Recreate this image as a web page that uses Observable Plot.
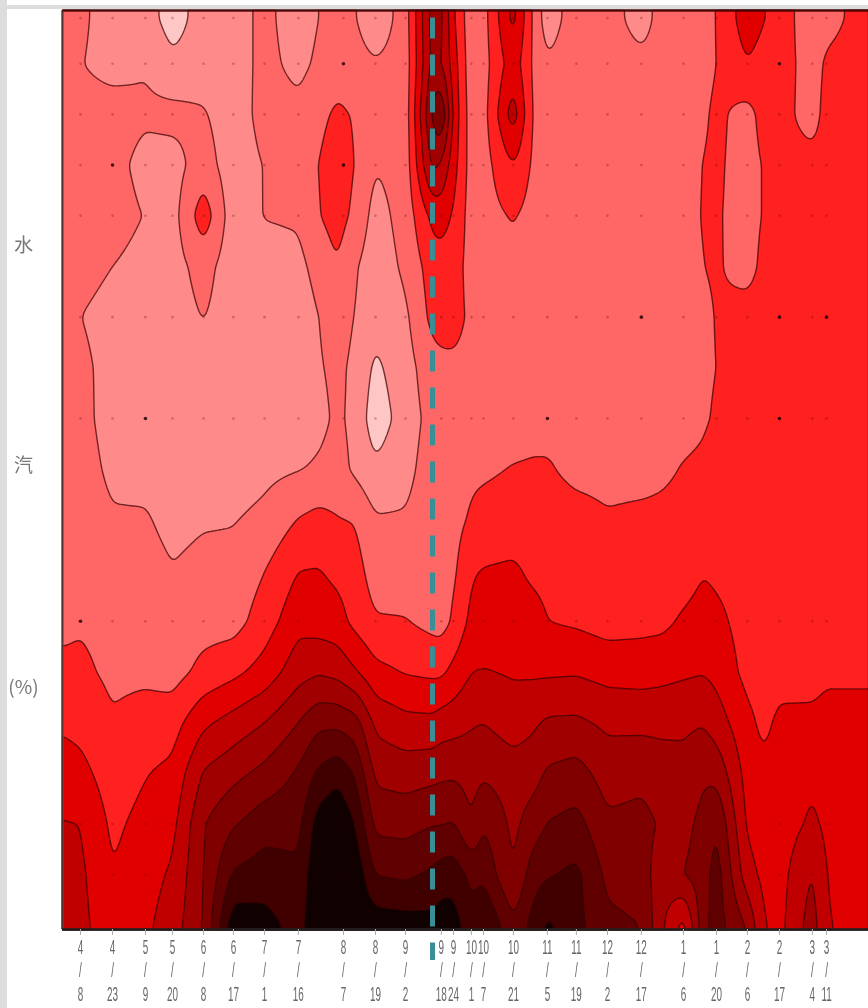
<!DOCTYPE html>
<html>
<head>
<meta charset="utf-8">
<script src="https://cdn.jsdelivr.net/npm/d3@7"></script>
<script src="https://cdn.jsdelivr.net/npm/@observablehq/plot@0.6"></script>
<style>
html,body{margin:0;padding:0;background:#fff;overflow:hidden}
#page{position:relative;width:868px;height:1008px}
#stripL{position:absolute;left:0;top:0;width:7px;height:1008px;background:#ddd}
#stripT{position:absolute;left:7px;top:5px;width:861px;height:4px;background:#ddd}
#chart{position:absolute;left:0;top:0}
#chart svg{display:block;background:transparent;filter:blur(.7px)}
#chart svg text{filter:blur(.7px)}
</style>
</head>
<body>
<div id="page"><div id="stripL"></div><div id="stripT"></div><div id="chart"></div></div>
<script>
// Sounding heights (grid rows), top to bottom
const heights = [1790,1700,1600,1500,1400,1300,1200,1100,1000,900,800,700,600,500,400,300,200,100,0];
// Grid columns, in days after the first labelled sample
const sampleDays = [-8.1,0,14.5,29.4,41.6,55.7,69.2,83.3,98.6,107.7,116.3,124.4,133.5,147.1,159.3,163.3,168.8,176.9,182.4,195.9,205,211.3,224.4,238.5,253.8,262.9,272.9,281.9,287.8,301.8,308.6,316.3,331.2,337.6,356.6];
// Values read per column (contour level units), one entry per height
const c00 = [2.5,2.5,2.6,2.6,2.6,2.6,2.5,2.5,2.5,2.5,2.5,2.6,2.8,3.2,3.85,4.45,5.05,5.4,5.7];
const c01 = [2.2,2.05,2.4,2.6,2.6,2.3,2.0,2.2,2.3,2.4,2.5,2.6,2.9,3.2,3.7,4.3,5.0,5.2,5.3];
const c02 = [1.5,1.6,2.5,2.4,2.5,2.0,1.7,1.7,1.6,1.8,2.1,2.4,2.7,2.8,3.1,3.5,3.8,4.05,4.3];
const c03 = [1.5,1.9,2.2,1.6,1.95,1.6,1.6,1.5,1.5,1.7,2.1,2.4,2.7,2.8,3.4,3.95,4.3,4.6,4.8];
const c04 = [.5,1.25,2.3,1.6,1.6,1.6,1.5,1.4,1.4,1.5,1.7,2.05,2.4,2.6,3.57,4.25,4.7,5.15,5.5];
const c05 = [1.5,1.5,2.1,2.5,3.6,2.4,2.05,1.6,1.5,1.5,1.9,2.3,2.6,3.3,4.8,6.1,6.95,7.0,7.05];
const c06 = [1.5,1.5,1.4,1.4,1.4,1.4,1.4,1.4,1.4,1.5,1.95,2.3,2.6,3.75,5.4,6.7,7.9,9.15,10.7];
const c07 = [2.3,2.3,2.4,2.05,2.05,1.5,1.4,1.4,1.4,1.75,2.25,2.98,3.5,4.4,6.0,7.3,8.6,9.5,10.4];
const c08 = [1.4,1.7,2.3,2.4,2.15,1.7,1.3,1.3,1.4,1.95,3.05,4.0,4.7,5.6,7.0,8.15,8.7,9.2,9.6];
const c09 = [2.0,2.2,2.7,3.0,2.95,2.4,2.0,1.9,1.7,2.15,3.3,4.05,4.55,5.9,7.75,9.2,10.5,11,11];
const c10 = [2.5,2.5,3.2,3.7,3.4,2.95,2.5,2.25,2.2,2.4,3.05,3.75,4.4,5.7,7.76,9.7,11,11.5,11.5];
const c11 = [2.05,2.35,2.9,2.95,2.75,2.1,1.95,1.75,1.7,1.8,2.95,3.4,3.7,5.1,7.4,8.9,10.0,10.8,11];
const c12 = [1.3,2.1,2.4,2.05,1.6,1.4,1.3,.8,.4,1.2,2.1,2.5,3.1,4.3,5.75,6.75,7.7,8.98,10.6];
const c13 = [2.5,2.4,2.4,2.4,2.4,2.2,1.8,1.6,1.5,1.7,2.1,2.5,3.05,3.93,5.3,6.55,7.65,8.8,10.5];
const c14 = [6.5,6.4,7.2,6.3,4.3,3.5,3.3,2.6,2.35,2.5,2.55,2.55,2.7,3.8,5.25,6.7,7.95,9.2,10.35];
const c15 = [6.3,6.1,8.2,5.9,4.4,3.6,3.4,2.75,2.4,2.4,2.5,2.55,2.6,3.8,5.5,6.8,7.95,9.5,10.6];
const c16 = [4.1,4.5,4.7,4.4,3.9,3.45,3.35,2.8,2.45,2.45,2.65,2.8,3.15,4.3,5.6,6.85,8.1,9.6,10.5];
const c17 = [2.3,2.3,2.4,2.5,2.5,2.6,2.8,2.7,2.5,2.8,3.15,3.9,4.3,5.0,5.9,6.65,7.0,8.7,9.35];
const c18 = [2.6,2.6,2.6,2.6,2.6,2.6,2.6,2.6,2.6,2.85,3.35,4.05,4.45,5.05,6.0,6.85,7.95,8.8,10.1];
const c19 = [5.4,4.6,5.6,4.0,3.1,2.65,2.6,2.6,2.6,3.05,3.5,4.15,4.5,4.9,5.5,6.5,6.75,6.95,8.2];
const c20 = [2.8,2.8,2.8,2.8,2.6,2.6,2.6,2.6,2.7,3.1,3.4,3.8,4.35,4.85,5.85,6.6,7.5,8.6,9.4];
const c21 = [1.4,2.15,2.5,2.5,2.55,2.6,2.6,2.6,2.7,3.1,3.45,3.75,4.0,4.85,6.15,7.15,8.05,8.9,10.2];
const c22 = [2.6,2.6,2.6,2.6,2.6,2.6,2.6,2.6,2.7,2.75,3.35,3.7,3.85,4.9,6.2,7.4,8.35,9.25,9.3];
const c23 = [2.6,2.6,2.6,2.6,2.6,2.6,2.6,2.6,2.65,2.7,3.1,3.4,3.6,4.65,5.8,6.55,7.2,7.75,8.25];
const c24 = [1.4,2.4,2.5,2.5,2.5,2.5,2.5,2.5,2.6,2.7,3.2,3.35,3.7,4.6,5.75,6.75,7.3,7.5,8.0];
const c25 = [2.5,2.5,2.5,2.5,2.5,2.5,2.5,2.5,2.7,2.85,3.2,3.4,3.75,4.7,5.75,6.5,6.9,6.4,6.2];
const c26 = [2.6,2.5,2.5,2.5,2.5,2.5,2.5,2.5,2.75,3.05,3.25,3.55,4.15,4.85,5.8,6.35,6.7,7.0,4.6];
const c27 = [2.7,2.7,2.85,3.05,3.1,3.0,2.8,2.85,2.9,3.15,3.3,3.95,4.4,4.95,5.95,6.85,7.3,7.5,7.7];
const c28 = [3.0,3.0,3.2,3.15,3.1,3.1,3.05,3.0,3.1,3.35,3.5,3.8,4.25,4.7,5.5,6.7,8.0,8.5,8.45];
const c29 = [4.6,3.95,2.65,2.6,2.6,2.65,3.4,3.5,3.5,3.6,3.65,3.6,3.6,3.7,4.25,4.6,4.8,5.4,6.9];
const c30 = [4.1,3.6,3.3,3.05,3.05,3.2,3.45,3.5,3.5,3.55,3.55,3.55,3.55,3.6,3.8,4.2,4.5,4.8,5.1];
const c31 = [3.5,3.4,3.3,3.2,3.2,3.3,3.4,3.5,3.5,3.6,3.6,3.65,3.7,3.75,4.15,4.3,4.45,4.6,4.7];
const c32 = [2.4,2.6,2.65,3.3,3.2,3.3,3.4,3.4,3.4,3.45,3.5,3.5,3.6,3.7,4.2,4.8,5.2,6.1,6.5];
const c33 = [2.7,3.15,3.3,3.3,3.3,3.3,3.4,3.4,3.4,3.45,3.5,3.5,3.6,3.85,4.3,4.5,4.8,4.95,5.05];
const c34 = [3.4,3.4,3.4,3.4,3.4,3.4,3.4,3.4,3.4,3.5,3.5,3.5,3.6,3.85,4.3,4.4,4.5,4.6,4.7];
const columns = [c00,c01,c02,c03,c04,c05,c06,c07,c08,c09,c10,c11,c12,c13,c14,c15,c16,c17,c18,c19,c20,c21,c22,c23,c24,c25,c26,c27,c28,c29,c30,c31,c32,c33,c34];

// Contour levels and their colours
const levelThresholds = [0,1,2,3,4,5,6,7,8,9,10];
const levelColors = ["#ffc6c6","#ff8a8a","#ff6666","#ff2020","#e00000","#c00000","#a00000","#800000","#600000","#400000","#100000"];

// Tick labels on the time axis
const tickDays = [0,14.5,29.4,41.6,55.7,69.2,83.3,98.6,119,133.5,147.1,163.3,168.8,176.9,182.4,195.9,211.3,224.4,238.5,253.8,272.9,287.8,301.8,316.3,331.2,337.6];
const tickMonths = ["4","4","5","5","6","6","7","7","8","8","9","9","9","10","10","10","11","11","12","12","1","1","2","2","3","3"];
const tickDates = ["8","23","9","20","8","17","1","16","7","19","2","18","24","1","7","21","5","19","2","17","6","20","6","17","4","11"];

// Sample markers
const markerHeights = [1790,1700,1600,1500,1400,1200,1000,600,200,100];
const markedDay = [14.5,119,119,29.4,0,253.8,316.3,337.6,316.3,211.3,316.3];
const markedHeight = [1500,1700,1500,1000,600,1200,1200,1200,1000,1000,1700];

// Dashed reference line and side labels
const eventDay = 159.3;
const sideHeights = [1341,907,469];
const sideTexts = ["水","汽","(%)"];

function value(x, y) {
  const i = Math.max(0, Math.min(sampleDays.length - 2, d3.bisectRight(sampleDays, x) - 1));
  const tx = Math.max(0, Math.min(1, (x - sampleDays[i]) / (sampleDays[i + 1] - sampleDays[i])));
  let j = 0;
  while (j < heights.length - 2 && y < heights[j + 1]) j++;
  const ty = Math.max(0, Math.min(1, (heights[j] - y) / (heights[j] - heights[j + 1])));
  const a = columns[i][j] * (1 - ty) + columns[i][j + 1] * ty;
  const b = columns[i + 1][j] * (1 - ty) + columns[i + 1][j + 1] * ty;
  return a * (1 - tx) + b * tx;
}

const xDomain = [-8.14, 356.6];
const yDomain = [-8, 1805];
const markers = tickDays.flatMap(d => markerHeights.map(h => ({d, h})));
const dark = markedDay.map((d, i) => ({d, h: markedHeight[i]}));
const sides = sideHeights.map((h, i) => ({h, t: sideTexts[i]}));

const plot = Plot.plot({
  width: 868, height: 1008,
  marginLeft: 62, marginRight: 0, marginTop: 10, marginBottom: 79,
  style: {background: "transparent", overflow: "visible"},
  x: {domain: xDomain},
  y: {domain: yDomain, axis: null},
  color: {type: "threshold", domain: levelThresholds.slice(1), range: levelColors},
  marks: [
    Plot.contour({
      fill: value,
      x1: xDomain[0], x2: xDomain[1], y1: yDomain[0], y2: yDomain[1],
      thresholds: levelThresholds,
      stroke: "#300",
      strokeWidth: 1.4,
      strokeOpacity: .7,
      pixelSize: 1,
      blur: 3
    }),
    Plot.dot(markers, {x: "d", y: "h", r: 1.3, fill: "#500", fillOpacity: .28, stroke: "none"}),
    Plot.dot(dark, {x: "d", y: "h", r: 1.8, fill: "#200", fillOpacity: .8, stroke: "none"}),
    Plot.ruleX([xDomain[0]], {stroke: "#555", strokeOpacity: .55, strokeWidth: 3}),
    Plot.ruleY([yDomain[1]], {stroke: "#400", strokeOpacity: .6, strokeWidth: 3}),
    Plot.ruleY([yDomain[0]], {stroke: "#222", strokeOpacity: .8, strokeWidth: 3}),
    Plot.axisX({
      ticks: tickDays,
      tickFormat: d => { const i = tickDays.indexOf(d); return `${tickMonths[i]}\n/\n${tickDates[i]}`; },
      tickSize: 6,
      tickPadding: 1,
      stroke: "#aaa",
      fill: "#666",
      fontSize: 18,
      lineHeight: 1.21,
      fontFamily: "Liberation Sans, sans-serif",
      label: null
    }),
    Plot.text(sides, {
      frameAnchor: "left", y: "h", text: "t", dx: -39,
      textAnchor: "middle", fontSize: 19, fill: "#777",
      fontFamily: "Noto Sans CJK SC, sans-serif"
    }),
    Plot.ruleX([eventDay], {y1: 1790, y2: -69, stroke: "#3a8e96", strokeWidth: 5, strokeDasharray: "21 16"})
  ]
});
document.getElementById("chart").appendChild(plot);
// Narrow, tall tick glyphs like the reference's stretched raster
d3.select(plot).selectAll('g[aria-label="x-axis tick label"] text').each(function () {
  const t = this.getAttribute("transform") || "";
  this.setAttribute("transform", t + " scale(.55,1.1)");
});
</script>
</body>
</html>
